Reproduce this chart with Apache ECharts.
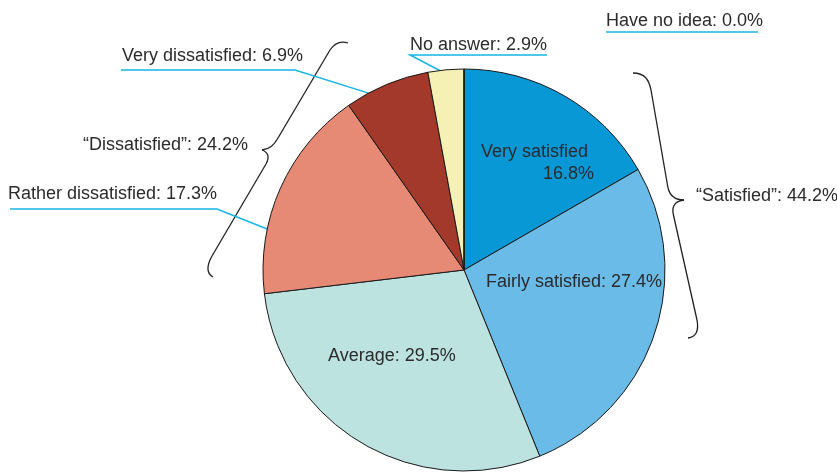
<!DOCTYPE html>
<html>
<head>
<meta charset="utf-8">
<script src="https://cdn.jsdelivr.net/npm/echarts@6/dist/echarts.min.js"></script>
<style>html,body{margin:0;padding:0;background:#fff}#c{width:837px;height:472px}</style>
</head>
<body>
<div id="c"></div>
<script>
// ---- data ----
const categories = ['Very satisfied','Fairly satisfied','Average','Rather dissatisfied','Very dissatisfied','No answer','Have no idea'];
const values = [16.8, 27.4, 29.5, 17.3, 6.9, 2.9, 0.0];
const groupNames = ['Satisfied', 'Dissatisfied'];
const groupMembers = [[0, 1], [3, 4]];

// ---- style / layout ----
const colors = ['#0898d6','#6bbbe8','#bde3e0','#e68a76','#a2392a','#f5f0b3','#f5f0b3'];
const CX = 464, CY = 270, R = 201;
const FONT = 'Liberation Sans, Arial, Helvetica, sans-serif';
const TXT = '#2b2b2b';
const LEADER = '#17b4e6';
// label placement: left x, center y, underline {y, from, to, knee side, edge fraction}
const placement = [
  {x: 481, y: 163},
  {x: 486, y: 282},
  {x: 328, y: 356},
  {x: 8,   y: 194, ul: {y: 209, from: 10,  to: 217, knee: 'right', frac: 0.30}},
  {x: 122, y: 56,  ul: {y: 70,  from: 121, to: 295, knee: 'right', frac: 0.27}},
  {x: 410, y: 45,  ul: {y: 55,  from: 410, to: 547, knee: 'left',  frac: 0.33}},
  {x: 606, y: 21,  ul: {y: 32,  from: 606, to: 758, knee: 'none'}}
];
// brace outlines: ['C', x1,y1, cp1x,cp1y, cp2x,cp2y, x2,y2] or ['L', x1,y1, x2,y2]
const braceRight = [
  ['C', 633,73, 645,73, 649,80, 651,90],
  ['L', 651,90, 668,188],
  ['C', 668,188, 670,196, 675,200, 684,200],
  ['C', 684,200, 676,201, 672,205, 673,213],
  ['L', 673,213, 697,320],
  ['C', 697,320, 699,331, 696,337, 688,338]
];
const braceLeft = [
  ['C', 348,43, 339,40, 334,44, 330,50],
  ['L', 330,50, 278,138],
  ['C', 278,138, 274,145, 270,149, 262,150],
  ['C', 262,150, 268,152, 270,157, 266,164],
  ['L', 266,164, 212,256],
  ['C', 212,256, 207,265, 206,273, 213,277]
];

const total = values.reduce((a, b) => a + b, 0);
function edgePoint(i, frac) {
  let start = 0;
  for (let k = 0; k < i; k++) start += values[k];
  const deg = (start + values[i] * frac) / total * 360;
  const rad = deg * Math.PI / 180;
  return [CX + R * Math.sin(rad), CY - R * Math.cos(rad)];
}
function fmt(v) { return v.toFixed(1) + '%'; }
function braceElements(segs) {
  const st = {fill: 'none', stroke: '#222', lineWidth: 1.3};
  return segs.map(s => s[0] === 'L'
    ? {type: 'line', shape: {x1: s[1], y1: s[2], x2: s[3], y2: s[4]}, style: st}
    : {type: 'bezierCurve', shape: {x1: s[1], y1: s[2], cpx1: s[3], cpy1: s[4], cpx2: s[5], cpy2: s[6], x2: s[7], y2: s[8]}, style: st});
}

const data = categories.map((name, i) => ({
  name: name,
  value: values[i],
  itemStyle: {color: colors[i]},
  label: {position: i <= 2 ? 'inside' : 'outside'},
  labelLine: {show: i > 2}
}));

const chart = echarts.init(document.getElementById('c'));
chart.setOption({
  backgroundColor: '#fff',
  animation: false,
  series: [{
    type: 'pie',
    center: [CX, CY],
    radius: R,
    startAngle: 90,
    clockwise: true,
    avoidLabelOverlap: false,
    itemStyle: {borderColor: '#1a1a1a', borderWidth: 1},
    emphasis: {disabled: true},
    data: data,
    label: {
      show: true,
      fontFamily: FONT,
      fontSize: 18,
      color: TXT,
      formatter: function (p) {
        if (p.dataIndex === 0) return '{n|' + p.name + '}\n{v|' + fmt(p.value) + '}';
        return p.name + ': ' + fmt(p.value);
      },
      rich: {
        n: {fontFamily: FONT, fontSize: 18, color: TXT, lineHeight: 22},
        v: {fontFamily: FONT, fontSize: 18, color: TXT, lineHeight: 22, padding: [0, 0, 0, 62]}
      }
    },
    labelLine: {show: true, lineStyle: {color: LEADER, width: 1.5}, smooth: false},
    labelLayout: function (p) {
      const L = placement[p.dataIndex];
      const res = {x: L.x, y: L.y, align: 'left', verticalAlign: 'middle'};
      if (L.ul) {
        const u = L.ul;
        let pts;
        if (u.knee === 'right') {
          pts = [edgePoint(p.dataIndex, u.frac), [u.to, u.y], [u.from, u.y]];
        } else if (u.knee === 'left') {
          pts = [edgePoint(p.dataIndex, u.frac), [u.from, u.y], [u.to, u.y]];
        } else {
          pts = [[u.from, u.y], [u.from, u.y], [u.to, u.y]];
        }
        res.labelLinePoints = pts;
      }
      return res;
    }
  }],
  graphic: braceElements(braceRight).concat(braceElements(braceLeft)).concat([
    {
      type: 'text', left: 696, top: 187,
      style: {text: '\u201C' + groupNames[0] + '\u201D: ' + fmt(groupMembers[0].reduce((a, i) => a + values[i], 0)), font: '18px ' + FONT, fill: TXT}
    },
    {
      type: 'text', left: 83, top: 136,
      style: {text: '\u201C' + groupNames[1] + '\u201D: ' + fmt(groupMembers[1].reduce((a, i) => a + values[i], 0)), font: '18px ' + FONT, fill: TXT}
    }
  ])
});
</script>
</body>
</html>
